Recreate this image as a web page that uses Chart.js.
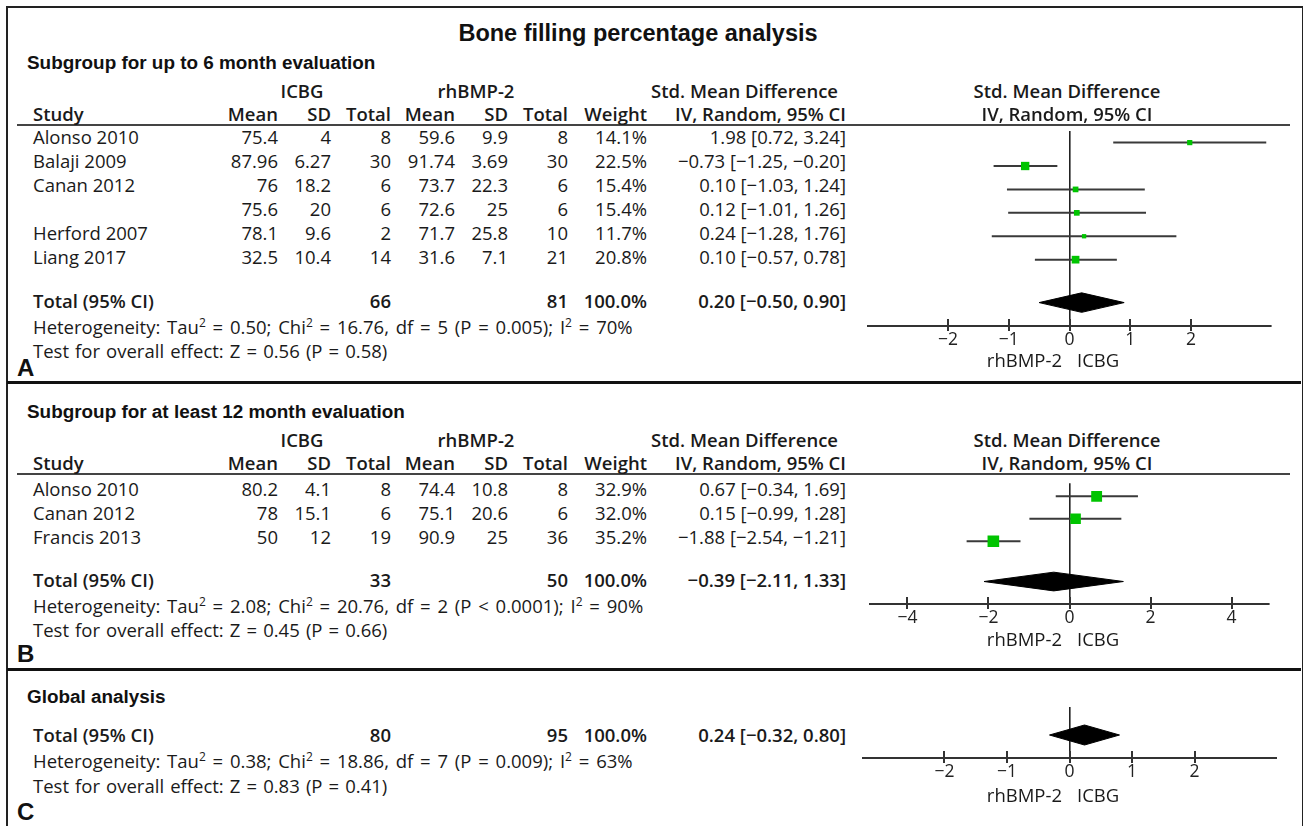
<!DOCTYPE html>
<html>
<head>
<meta charset="utf-8">
<script src="https://cdn.jsdelivr.net/npm/chart.js@4.4.1/dist/chart.umd.min.js"></script>
<style>
  html, body { margin: 0; padding: 0; background: #fff; }
  body { width: 1303px; height: 826px; overflow: hidden; position: relative; }
  .t { position: absolute; white-space: nowrap; line-height: 22px; height: 22px; color: #1a1a1a;
       font-family: 'Open Sans', 'DejaVu Sans', sans-serif; font-size: 18.5px; }
  .b { font-weight: 600; }
  .ws { word-spacing: 2px; }
  .ws2 { word-spacing: 1.3px; }
  .h { font-family: 'Liberation Sans', Arial, sans-serif; font-weight: bold; color: #111; }
  .ln { position: absolute; }
  canvas { position: absolute; }
  sup { font-size: 12px; vertical-align: 7px; line-height: 0; }
</style>
</head>
<body>
<div class="ln" style="left:6px;top:6px;width:1294px;height:840px;border:2px solid #222;"></div>
<div class="ln" style="left:7px;top:381px;width:1294px;height:3px;background:#111;"></div>
<div class="ln" style="left:7px;top:668px;width:1294px;height:3px;background:#111;"></div>
<div class="ln" style="left:17px;top:124px;width:1273px;height:2px;background:#444;"></div>
<div class="ln" style="left:17px;top:473px;width:1273px;height:2px;background:#444;"></div>
<canvas id="cA" width="415" height="237" style="left:862px;top:125px;"></canvas>
<canvas id="cB" width="415" height="165" style="left:862px;top:475px;"></canvas>
<canvas id="cC" width="415" height="87" style="left:862px;top:707px;"></canvas>
<script>
// ---------------- DATA ----------------
const titleText = 'Bone filling percentage analysis';
const groupLabels = ['ICBG', 'rhBMP-2'];
const axisSideLabels = ['rhBMP-2', 'ICBG'];

// Panel A: up to 6 months
const aTitle = 'Subgroup for up to 6 month evaluation';
const aStudies  = ['Alonso 2010', 'Balaji 2009', 'Canan 2012', '', 'Herford 2007', 'Liang 2017'];
const aIcbgMean = [75.4, 87.96, 76, 75.6, 78.1, 32.5];
const aIcbgSD   = [4, 6.27, 18.2, 20, 9.6, 10.4];
const aIcbgN    = [8, 30, 6, 6, 2, 14];
const aBmpMean  = [59.6, 91.74, 73.7, 72.6, 71.7, 31.6];
const aBmpSD    = [9.9, 3.69, 22.3, 25, 25.8, 7.1];
const aBmpN     = [8, 30, 6, 6, 10, 21];
const aWeight   = [14.1, 22.5, 15.4, 15.4, 11.7, 20.8];
const aSmd      = [1.98, -0.73, 0.10, 0.12, 0.24, 0.10];
const aLo       = [0.72, -1.25, -1.03, -1.01, -1.28, -0.57];
const aHi       = [3.24, -0.20, 1.24, 1.26, 1.76, 0.78];
const aTotalN   = [66, 81];
const aTotalCI  = [0.20, -0.50, 0.90];
const aHet      = ['0.50', '16.76', '5', 'P = 0.005', '70%'];
const aTest     = ['0.56', '0.58'];
const aTicks    = [-2, -1, 0, 1, 2];

// Panel B: at least 12 months
const bTitle = 'Subgroup for at least 12 month evaluation';
const bStudies  = ['Alonso 2010', 'Canan 2012', 'Francis 2013'];
const bIcbgMean = [80.2, 78, 50];
const bIcbgSD   = [4.1, 15.1, 12];
const bIcbgN    = [8, 6, 19];
const bBmpMean  = [74.4, 75.1, 90.9];
const bBmpSD    = [10.8, 20.6, 25];
const bBmpN     = [8, 6, 36];
const bWeight   = [32.9, 32.0, 35.2];
const bSmd      = [0.67, 0.15, -1.88];
const bLo       = [-0.34, -0.99, -2.54];
const bHi       = [1.69, 1.28, -1.21];
const bTotalN   = [33, 50];
const bTotalCI  = [-0.39, -2.11, 1.33];
const bHet      = ['2.08', '20.76', '2', 'P < 0.0001', '90%'];
const bTest     = ['0.45', '0.66'];
const bTicks    = [-4, -2, 0, 2, 4];

// Panel C: global
const cTitle = 'Global analysis';
const cTotalN   = [80, 95];
const cTotalCI  = [0.24, -0.32, 0.80];
const cHet      = ['0.38', '18.86', '7', 'P = 0.009', '63%'];
const cTest     = ['0.83', '0.41'];
const cTicks    = [-2, -1, 0, 1, 2];

// ---------------- TEXT LAYOUT ----------------
const col = { study: 33, m1: 278, sd1: 331, n1: 391, m2: 455, sd2: 508, n2: 568, w: 647, ci: 846, plot: 1067 };

function fmt(v, d) { return (v < 0 ? '\u2212' : '') + Math.abs(v).toFixed(d); }
function ciText(c) { return fmt(c[0], 2) + ' [' + fmt(c[1], 2) + ', ' + fmt(c[2], 2) + ']'; }

function txt(x, y, html, align, cls, extraStyle) {
  const d = document.createElement('div');
  d.className = 't ' + (cls || '');
  d.innerHTML = html;
  d.style.left = x + 'px';
  d.style.top = (y - 11) + 'px';
  if (align === 'r') d.style.transform = 'translateX(-100%)';
  if (align === 'c') d.style.transform = 'translateX(-50%)';
  if (extraStyle) d.style.cssText += extraStyle;
  document.body.appendChild(d);
  return d;
}

txt(638, 33, titleText, 'c', 'h', 'font-size:23.5px;');

function headers(yGroup, yHead) {
  txt(302, yGroup, groupLabels[0], 'c', 'b');
  txt(476, yGroup, groupLabels[1], 'c', 'b');
  txt(838, yGroup, 'Std. Mean Difference', 'r', 'b');
  txt(col.plot, yGroup, 'Std. Mean Difference', 'c', 'b');
  txt(col.study, yHead, 'Study', 'l', 'b');
  txt(col.m1, yHead, 'Mean', 'r', 'b');
  txt(col.sd1, yHead, 'SD', 'r', 'b');
  txt(col.n1, yHead, 'Total', 'r', 'b');
  txt(col.m2, yHead, 'Mean', 'r', 'b');
  txt(col.sd2, yHead, 'SD', 'r', 'b');
  txt(col.n2, yHead, 'Total', 'r', 'b');
  txt(col.w, yHead, 'Weight', 'r', 'b');
  txt(col.ci, yHead, 'IV, Random, 95% CI', 'r', 'b');
  txt(col.plot, yHead, 'IV, Random, 95% CI', 'c', 'b');
}

function rows(y0, step, st, m1, s1, n1, m2, s2, n2, w, smd, lo, hi) {
  st.forEach((s, i) => {
    const y = y0 + i * step;
    txt(col.study, y, s, 'l');
    txt(col.m1, y, String(m1[i]), 'r');
    txt(col.sd1, y, String(s1[i]), 'r');
    txt(col.n1, y, String(n1[i]), 'r');
    txt(col.m2, y, String(m2[i]), 'r');
    txt(col.sd2, y, String(s2[i]), 'r');
    txt(col.n2, y, String(n2[i]), 'r');
    txt(col.w, y, w[i].toFixed(1) + '%', 'r');
    txt(col.ci, y, ciText([smd[i], lo[i], hi[i]]), 'r');
  });
}

function totals(y, tn, tci, het, test, yHet, yTest) {
  txt(col.study, y, 'Total (95% CI)', 'l', 'b');
  txt(col.n1, y, String(tn[0]), 'r', 'b');
  txt(col.n2, y, String(tn[1]), 'r', 'b');
  txt(col.w, y, '100.0%', 'r', 'b');
  txt(col.ci, y, ciText(tci), 'r', 'b');
  txt(col.study, yHet, 'Heterogeneity: Tau<sup>2</sup> = ' + het[0] + '; Chi<sup>2</sup> = ' + het[1] +
      ', df = ' + het[2] + ' (' + het[3] + '); I<sup>2</sup> = ' + het[4], 'l', 'ws');
  txt(col.study, yTest, 'Test for overall effect: Z = ' + test[0] + ' (P = ' + test[1] + ')', 'l', 'ws2');
}

function sideLabels(y) {
  txt(1062, y, axisSideLabels[0], 'r');
  txt(1077, y, axisSideLabels[1], 'l');
}

// Panel A
txt(27, 63, aTitle, 'l', 'h', 'font-size:18.9px;');
headers(91, 114);
rows(137, 24, aStudies, aIcbgMean, aIcbgSD, aIcbgN, aBmpMean, aBmpSD, aBmpN, aWeight, aSmd, aLo, aHi);
totals(301, aTotalN, aTotalCI, aHet, aTest, 327, 351);
txt(17, 368, 'A', 'l', 'h', 'font-size:24px;');
sideLabels(360);

// Panel B
txt(27, 412, bTitle, 'l', 'h', 'font-size:18.9px;');
headers(440, 463);
rows(489, 24, bStudies, bIcbgMean, bIcbgSD, bIcbgN, bBmpMean, bBmpSD, bBmpN, bWeight, bSmd, bLo, bHi);
totals(580, bTotalN, bTotalCI, bHet, bTest, 606, 630);
txt(17, 654, 'B', 'l', 'h', 'font-size:24px;');
sideLabels(639);

// Panel C
txt(27, 697, cTitle, 'l', 'h', 'font-size:18.9px;');
totals(735, cTotalN, cTotalCI, cHet, cTest, 761, 786);
txt(17, 812, 'C', 'l', 'h', 'font-size:24px;');
sideLabels(795);

// ---------------- CHARTS ----------------
const tickMarks = {
  id: 'tickMarks',
  afterDatasetsDraw(chart) {
    const s = chart.scales.x, ctx = chart.ctx, yb = chart.chartArea.bottom;
    ctx.save();
    ctx.strokeStyle = '#333';
    ctx.lineWidth = 2;
    s.ticks.forEach(t => {
      const px = Math.round(s.getPixelForValue(t.value));
      ctx.beginPath();
      ctx.moveTo(px, yb - 7);
      ctx.lineTo(px, yb + 5);
      ctx.stroke();
    });
    ctx.restore();
  }
};

function forest(id, cfg) {
  const datasets = [];
  const pts = [];
  const radii = [];
  (cfg.smd || []).forEach((v, i) => {
    datasets.push({
      type: 'line', data: [{ x: cfg.lo[i], y: i }, { x: cfg.hi[i], y: i }],
      borderColor: '#3a3a3a', borderWidth: 2, pointRadius: 0, fill: false, order: 2
    });
    pts.push({ x: v, y: i });
    radii.push(cfg.weight[i] * cfg.sizeK / Math.SQRT2);
  });
  if (pts.length) {
    datasets.push({
      type: 'scatter', data: pts, pointStyle: 'rect', pointRadius: radii,
      backgroundColor: '#00c400', borderWidth: 0, pointBorderWidth: 0, order: 0
    });
  }
  const t = cfg.totalRow, h = cfg.diaHalf, c = cfg.total;
  datasets.push({
    type: 'line',
    data: [{ x: c[1], y: t }, { x: c[0], y: t - h }, { x: c[2], y: t }, { x: c[0], y: t + h }, { x: c[1], y: t }],
    borderColor: '#000', backgroundColor: '#000', borderWidth: 1, pointRadius: 0, fill: 'shape', tension: 0, order: 1
  });

  return new Chart(document.getElementById(id), {
    type: 'scatter',
    data: { datasets },
    options: {
      responsive: false, animation: false, devicePixelRatio: 1,
      layout: { padding: 0 },
      plugins: { legend: { display: false }, tooltip: { enabled: false } },
      scales: {
        x: {
          type: 'linear', min: cfg.min, max: cfg.max,
          afterBuildTicks: s => { s.ticks = cfg.ticks.map(v => ({ value: v })); },
          afterFit: s => { s.height = 36; },
          ticks: {
            padding: 4, color: '#222',
            font: { family: "'Open Sans', sans-serif", size: 17.5 },
            callback: v => fmt(v, 0)
          },
          grid: {
            drawTicks: false, lineWidth: 1.6,
            color: ctx => (ctx.tick && ctx.tick.value === 0) ? '#222' : 'rgba(0,0,0,0)'
          },
          border: { display: true, color: '#333', width: 2 }
        },
        y: { type: 'linear', display: false, reverse: true, min: cfg.yMin, max: cfg.yMax }
      }
    },
    plugins: [tickMarks]
  });
}

// Panel A plot: chart area from y=125 (header rule) to y=325 (axis), rows every 24px from y=137
forest('cA', {
  smd: aSmd, lo: aLo, hi: aHi, weight: aWeight, sizeK: 0.37,
  total: aTotalCI, totalRow: (301 - 137) / 24, diaHalf: 10 / 24,
  min: -3.32, max: 3.32, ticks: aTicks,
  yMin: -(137 - 125) / 24, yMax: (325 - 137) / 24
});
// Panel B plot
forest('cB', {
  smd: bSmd, lo: bLo, hi: bHi, weight: bWeight, sizeK: 0.33,
  total: bTotalCI, totalRow: (580 - 489) / 24, diaHalf: 10 / 24,
  min: -4.92, max: 4.92, ticks: bTicks,
  yMin: -(489 - 475) / 24, yMax: (604 - 489) / 24
});
// Panel C plot
forest('cC', {
  total: cTotalCI, totalRow: 0, diaHalf: 10 / 24,
  min: -3.32, max: 3.32, ticks: cTicks,
  yMin: -(735 - 707) / 24, yMax: (758 - 735) / 24
});
</script>
</body>
</html>
